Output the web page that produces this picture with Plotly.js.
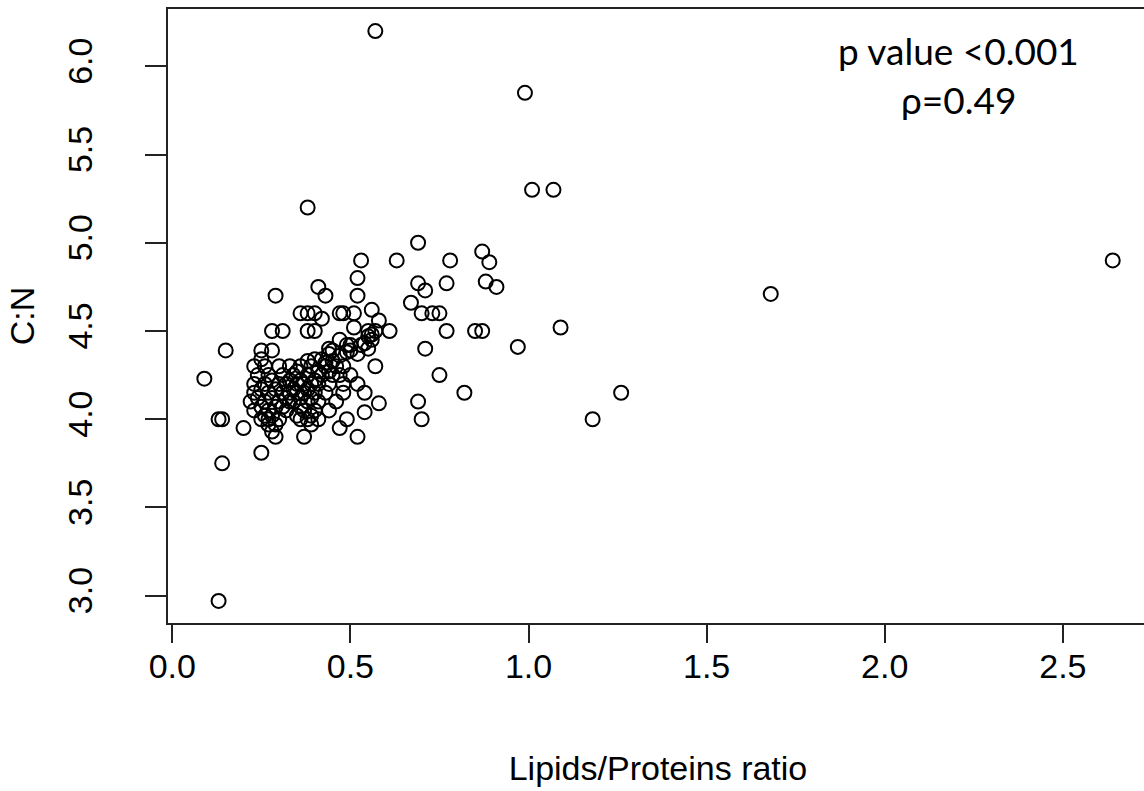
<!DOCTYPE html>
<html>
<head>
<meta charset="utf-8">
<script src="https://cdn.plot.ly/plotly-3.0.1.min.js"></script>
<style>
html,body{margin:0;padding:0;overflow:hidden;background:#fff;}
#chart{width:1150px;height:791px;}
</style>
</head>
<body>
<div id="chart"></div>
<script>
// Lipids/Proteins ratio (x) and C:N (y)
const lipidsProteins = [
  0.57,0.99,1.01,1.07,0.38,2.64,1.68,1.26,1.18,1.09,
  0.97,0.82,0.75,0.71,0.69,0.70,0.77,0.85,0.87,0.67,
  0.70,0.73,0.75,0.69,0.71,0.77,0.88,0.91,0.87,0.89,
  0.78,0.69,0.63,0.53,0.52,0.41,0.43,0.52,0.29,0.56,
  0.58,0.61,0.57,0.58,0.54,0.52,0.54,0.48,0.47,0.49,
  0.15,0.09,0.13,0.14,0.20,0.25,0.14,0.13,0.29,0.37,
  0.36,0.38,0.40,0.42,0.47,0.48,0.51,0.28,0.31,0.38,
  0.40,0.51,0.55,0.56,0.55,0.56,0.54,0.57,0.55,0.53,
  0.47,0.49,0.45,0.44,0.42,0.40,0.38,0.50,0.52,0.25,
  0.28,0.23,0.25,0.26,
  0.30,0.33,0.36,0.39,0.43,0.46,0.48,
  0.35,0.41,0.44,
  0.24,0.27,0.31,0.34,0.38,0.42,0.45,0.47,0.50,
  0.28,0.33,0.36,0.40,
  0.23,0.26,0.30,0.32,0.35,0.37,0.39,0.41,0.44,0.48,0.52,
  0.25,0.29,0.34,0.38,
  0.23,0.27,0.31,0.33,0.35,0.37,0.40,0.43,
  0.24,0.28,0.32,0.36,0.39,
  0.22,0.26,0.30,0.33,0.34,0.38,0.41,0.46,
  0.25,0.29,0.31,0.36,
  0.23,0.27,0.32,0.37,0.40,0.44,
  0.26,0.28,0.35,0.39,
  0.25,0.27,0.30,0.36,0.38,0.41,
  0.27,0.29,0.39,
  0.28,
  0.45,0.47,0.49,0.43,0.50,0.44
];
const carbonNitrogen = [
  6.20,5.85,5.30,5.30,5.20,4.90,4.71,4.15,4.00,4.52,
  4.41,4.15,4.25,4.40,4.10,4.00,4.50,4.50,4.50,4.66,
  4.60,4.60,4.60,4.77,4.73,4.77,4.78,4.75,4.95,4.89,
  4.90,5.00,4.90,4.90,4.80,4.75,4.70,4.70,4.70,4.62,
  4.56,4.50,4.30,4.09,4.04,3.90,4.15,4.15,3.95,4.00,
  4.39,4.23,4.00,4.00,3.95,3.81,3.75,2.97,3.90,3.90,
  4.60,4.60,4.60,4.57,4.60,4.60,4.60,4.50,4.50,4.50,
  4.50,4.52,4.50,4.45,4.47,4.48,4.43,4.50,4.40,4.42,
  4.45,4.42,4.39,4.37,4.34,4.34,4.33,4.39,4.37,4.39,
  4.39,4.30,4.34,4.30,
  4.30,4.30,4.30,4.30,4.30,4.30,4.30,
  4.27,4.27,4.27,
  4.25,4.25,4.25,4.25,4.25,4.25,4.25,4.25,4.25,
  4.22,4.22,4.22,4.22,
  4.20,4.20,4.20,4.20,4.20,4.20,4.20,4.20,4.20,4.20,4.20,
  4.17,4.17,4.17,4.17,
  4.15,4.15,4.15,4.15,4.15,4.15,4.15,4.15,
  4.12,4.12,4.12,4.12,4.12,
  4.10,4.10,4.10,4.10,4.10,4.10,4.10,4.10,
  4.07,4.07,4.07,4.07,
  4.05,4.05,4.05,4.05,4.05,4.05,
  4.02,4.02,4.02,4.02,
  4.00,4.00,4.00,4.00,4.00,4.00,
  3.97,3.97,3.97,
  3.93,
  4.33,4.36,4.38,4.32,4.42,4.40
];
const xTickVals = [0.0,0.5,1.0,1.5,2.0,2.5];
const yTickVals = [3.0,3.5,4.0,4.5,5.0,5.5,6.0];
const statLines = ["p value <0.001","\u03c1=0.49"];

const axisFont = {family:"Liberation Sans, Arial, sans-serif", size:34, color:"#000"};
const statFont = {family:"Lato, Open Sans, sans-serif", size:37, color:"#000"};

const trace = {
  x: lipidsProteins,
  y: carbonNitrogen,
  type: "scatter",
  mode: "markers",
  marker: {symbol:"circle-open", size:14, color:"#000", line:{width:2, color:"#000"}},
  hoverinfo: "x+y"
};

const layout = {
  width: 1150,
  height: 791,
  margin: {l:168, r:2, t:9, b:168},
  paper_bgcolor: "#fff",
  plot_bgcolor: "#fff",
  showlegend: false,
  xaxis: {
    range: [-0.012, 2.739],
    tickvals: xTickVals,
    ticktext: xTickVals.map(v => v.toFixed(1)),
    ticks: "outside", ticklen: 18, tickwidth: 2, tickcolor: "#222",
    showline: true, mirror: true, linecolor: "#222", linewidth: 2,
    showgrid: false, zeroline: false,
    tickfont: axisFont,
    ticklabelstandoff: -6,
    title: {text: "Lipids/Proteins ratio", font: axisFont, standoff: 72}
  },
  yaxis: {
    range: [2.845, 6.325],
    tickvals: yTickVals,
    ticktext: yTickVals.map(v => v.toFixed(1)),
    tickangle: -90,
    ticks: "outside", ticklen: 21, tickwidth: 2, tickcolor: "#222",
    showline: true, mirror: false, linecolor: "#222", linewidth: 2,
    showgrid: false, zeroline: false,
    tickfont: axisFont,
    ticklabelstandoff: 39,
    title: {text: "C:N", font: axisFont, standoff: 17}
  },
  annotations: [
    {xref:"paper", yref:"paper", x:0.807, y:0.933, xanchor:"center", yanchor:"middle",
     text: statLines[0], showarrow:false, font: statFont},
    {xref:"paper", yref:"paper", x:0.807, y:0.852, xanchor:"center", yanchor:"middle",
     text: statLines[1], showarrow:false, font: statFont}
  ]
};

Plotly.newPlot("chart", [trace], layout, {displayModeBar:false});
</script>
</body>
</html>
